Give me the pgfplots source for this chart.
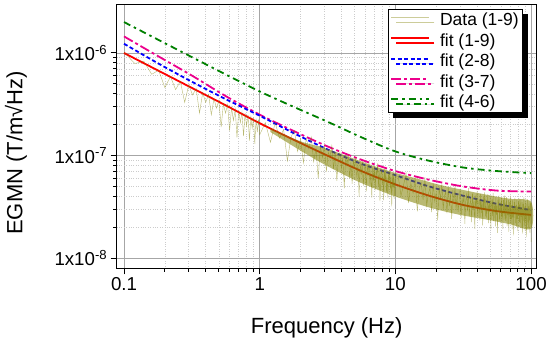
\documentclass[border=0pt]{standalone}
\usepackage{fontspec}
\setmainfont{Liberation Sans}
\usepackage{pgfplots}
\pgfplotsset{compat=1.18}
\usetikzlibrary{shadows}
\definecolor{fitgreen}{RGB}{0,128,0}
\definecolor{dataol}{RGB}{128,128,0}
\begin{document}
\begin{tikzpicture}
\begin{axis}[
  scale only axis, width=420pt, height=264pt,
  xmode=log, ymode=log,
  xmin=0.0883, xmax=110, ymin=8.0e-9, ymax=2.98e-6,
  xtick={0.1,1,10,100}, xticklabels={0.1,1,10,100},
  ytick={1e-8,1e-7,1e-6},
  yticklabels={1x10\textsuperscript{-8},1x10\textsuperscript{-7},1x10\textsuperscript{-6}},
  tick pos=left, tick align=outside,
  major tick length=6pt, minor tick length=3.5pt,
  every tick/.style={black, line width=1pt},
  grid=both,
  major grid style={black!35, line width=0.7pt},
  minor grid style={black!20, dotted, line width=0.6pt},
  axis line style={line width=1.6pt},
  ticklabel style={font=\fontsize{18.7}{22}\selectfont},
  every axis x label/.style={at={(axis description cs:0.5,-0.246)}, anchor=base, font=\fontsize{22}{26}\selectfont},
  every axis y label/.style={at={(axis description cs:-0.24,0.437)}, rotate=90, anchor=center, font=\fontsize{22}{26}\selectfont},
  xlabel={Frequency (Hz)}, ylabel={EGMN (T/m√Hz)},
  legend cell align=left,
  legend image code/.code={\draw[#1] (0pt,2.5pt) -- (38pt,2.5pt);},
  legend style={at={(axis description cs:0.9674,0.982)}, anchor=north east,
    draw=black, line width=0.8pt, fill=white,
    font=\fontsize{17.5}{21}\selectfont, inner sep=1.8pt, row sep=2.2pt,
    /tikz/every odd column/.append style={column sep=8pt},
    drop shadow={fill=black, opacity=1, shadow xshift=5pt, shadow yshift=-5pt}},
]
\addlegendimage{dataol!40!white, line width=0.7pt}
\addlegendentry{Data (1-9)}
\addlegendimage{red, line width=1.8pt}
\addlegendentry{fit (1-9)}
\addlegendimage{blue, line width=1.8pt, dash pattern=on 4pt off 2.5pt}
\addlegendentry{fit (2-8)}
\addlegendimage{magenta, line width=1.8pt, dash pattern=on 10pt off 3pt on 3pt off 3pt}
\addlegendentry{fit (3-7)}
\addlegendimage{fitgreen, line width=1.8pt, dash pattern=on 7pt off 4pt on 2.5pt off 4pt}
\addlegendentry{fit (4-6)}

% fit (4-6)
\addplot[forget plot, fitgreen, line width=1.8pt, dash pattern=on 7pt off 4pt on 2.5pt off 4pt, smooth] coordinates {
(0.1,2.00e-6) (0.1778,1.35e-6) (0.3162,9.12e-7) (0.5623,6.17e-7) (1,4.22e-7) (1.778,2.99e-7) (3.162,2.14e-7) (5.623,1.51e-7) (10,1.10e-7) (17.78,8.91e-8) (31.62,7.67e-8) (56.23,7.08e-8) (100,6.76e-8)};
% fit (3-7)
\addplot[forget plot, magenta, line width=1.8pt, dash pattern=on 10pt off 3pt on 3pt off 3pt, smooth] coordinates {
(0.1,1.45e-6) (0.1778,9.33e-7) (0.3162,6.03e-7) (0.5623,3.80e-7) (1,2.51e-7) (1.778,1.74e-7) (3.162,1.23e-7) (5.623,9.12e-8) (10,7.08e-8) (17.78,5.82e-8) (31.62,5.01e-8) (56.23,4.57e-8) (100,4.47e-8)};
% fit (2-8)
\addplot[forget plot, blue, line width=1.8pt, dash pattern=on 4pt off 2.5pt, smooth] coordinates {
(0.1,1.23e-6) (0.1778,7.94e-7) (0.3162,5.25e-7) (0.5623,3.55e-7) (1,2.45e-7) (1.778,1.66e-7) (3.162,1.15e-7) (5.623,8.32e-8) (10,6.46e-8) (17.78,5.01e-8) (31.62,4.07e-8) (56.23,3.39e-8) (100,2.95e-8)};
% fit (1-9)
\addplot[forget plot, red, line width=1.8pt, smooth] coordinates {
(0.1,1.00e-6) (0.1778,6.76e-7) (0.3162,4.57e-7) (0.5623,3.09e-7) (1,2.07e-7) (1.778,1.43e-7) (3.162,1.00e-7) (5.623,7.08e-8) (10,5.25e-8) (17.78,4.07e-8) (31.62,3.31e-8) (56.23,2.88e-8) (100,2.65e-8)};

% dense core of the data (1-9)
\addplot[forget plot, fill=dataol, draw=none, fill opacity=0.55, smooth] coordinates {
(1.2,1.85e-7) (2,1.38e-7) (3,1.19e-7) (5,9.3e-8) (7,7.9e-8) (10,6.8e-8) (15,5.9e-8) (20,5.3e-8) (30,4.7e-8) (50,4.1e-8) (70,3.8e-8) (100,3.55e-8)
(100,1.95e-8) (70,2.15e-8) (50,2.35e-8) (30,2.65e-8) (20,3.0e-8) (15,3.35e-8) (10,4.0e-8) (7,4.8e-8) (5,5.8e-8) (3,8.2e-8) (2,1.12e-7) (1.2,1.7e-7)} -- cycle;

% Data (1-9)
\addplot[forget plot, dataol, opacity=0.55, line width=0.4pt] coordinates {
(0.10,1.02e-6) (0.12,7.9e-7) (0.14,8.3e-7) (0.16,6.2e-7) (0.18,6.8e-7) (0.20,4.6e-7) (0.22,5.9e-7) (0.24,4.4e-7) (0.26,5.3e-7) (0.28,3.3e-7)
(0.30,4.9e-7) (0.32,3.9e-7) (0.34,4.5e-7) (0.36,2.6e-7) (0.38,4.1e-7) (0.40,3.3e-7) (0.42,3.95e-7) (0.44,2.5e-7) (0.46,3.6e-7) (0.48,2.9e-7)
(0.50,3.45e-7) (0.52,1.9e-7) (0.54,3.2e-7) (0.56,2.6e-7) (0.58,3.15e-7) (0.60,1.75e-7) (0.62,2.95e-7) (0.64,2.2e-7) (0.66,2.85e-7) (0.68,1.5e-7)
(0.70,2.75e-7) (0.72,2.1e-7) (0.74,2.65e-7) (0.76,1.55e-7) (0.78,2.6e-7) (0.80,1.95e-7) (0.82,2.5e-7) (0.84,1.4e-7) (0.86,2.45e-7) (0.88,1.85e-7)
(0.90,2.35e-7) (0.92,1.3e-7) (0.94,2.3e-7) (0.96,1.7e-7) (0.98,2.25e-7) (1.00,1.6e-7)
(1.1,21.0e-8) (1.2,13.5e-8) (1.3,21.0e-8) (1.4,14.8e-8) (1.5,18.0e-8) (1.6,8.9e-8) (1.7,15.2e-8) (1.8,17.6e-8) (1.9,11.0e-8) (2.0,14.7e-8)
(2.1,8.5e-8) (2.2,14.8e-8) (2.3,11.7e-8) (2.4,15.2e-8) (2.5,8.7e-8) (2.6,11.9e-8) (2.7,6.0e-8) (2.8,12.4e-8) (2.9,9.6e-8) (3.0,12.6e-8)
(3.1,7.0e-8) (3.2,10.8e-8) (3.3,9.7e-8) (3.4,12.5e-8) (3.5,7.4e-8) (3.6,10.9e-8) (3.7,5.7e-8) (3.8,9.2e-8) (3.9,10.8e-8) (4.0,7.5e-8)
(4.1,9.7e-8) (4.2,4.8e-8) (4.3,10.1e-8) (4.4,7.8e-8) (4.5,10.3e-8) (4.6,6.0e-8) (4.7,8.6e-8) (4.8,5.3e-8) (4.9,9.1e-8) (5.0,7.6e-8)
(5.1,9.7e-8) (5.2,6.1e-8) (5.3,8.3e-8) (5.4,4.0e-8) (5.5,8.7e-8) (5.6,6.5e-8) (5.7,8.9e-8) (5.8,5.1e-8) (5.9,7.4e-8) (6.0,8.0e-8)
(6.1,4.5e-8) (6.2,8.3e-8) (6.3,6.45e-8) (6.4,8.8e-8) (6.5,5.2e-8) (6.6,7.2e-8) (6.7,3.9e-8) (6.8,7.7e-8) (6.9,5.7e-8) (7.0,7.9e-8)
(7.1,4.6e-8) (7.2,7.2e-8) (7.3,6.4e-8) (7.4,8.4e-8) (7.5,5.0e-8) (7.6,7.2e-8) (7.7,3.6e-8) (7.8,6.6e-8) (7.9,7.4e-8) (8.0,5.2e-8)
(8.1,6.8e-8) (8.2,3.7e-8) (8.3,7.4e-8) (8.4,5.5e-8) (8.5,7.5e-8) (8.6,4.4e-8) (8.7,6.1e-8) (8.8,3.9e-8) (8.9,6.9e-8) (9.0,5.6e-8)
(9.1,7.2e-8) (9.2,4.7e-8) (9.3,6.2e-8) (9.4,3.2e-8) (9.5,6.5e-8) (9.6,4.9e-8) (9.7,6.7e-8) (9.8,3.8e-8) (9.9,5.8e-8) (10.0,6.2e-8)
(10.5,6.25e-8) (11.0,4.08e-8) (11.5,5.21e-8) (12.0,6.73e-8) (12.5,3.46e-8) (13.0,5.38e-8) (13.5,4.32e-8) (14.0,5.93e-8) (14.5,2.87e-8) (15.0,4.80e-8)
(15.5,5.44e-8) (16.0,3.71e-8) (16.5,6.18e-8) (17.0,3.25e-8) (17.5,4.25e-8) (18.0,4.86e-8) (18.5,2.82e-8) (19.0,5.36e-8) (19.5,3.59e-8) (20.0,4.37e-8)
(20.5,2.35e-8) (21.0,4.93e-8) (21.5,3.74e-8) (22.0,5.36e-8) (22.5,3.00e-8) (23.0,4.03e-8) (23.5,4.49e-8) (24.0,2.75e-8) (24.5,4.98e-8) (25.0,3.22e-8)
(25.5,4.22e-8) (26.0,2.43e-8) (26.5,4.64e-8) (27.0,3.40e-8) (27.5,5.06e-8) (28.0,2.94e-8) (28.5,4.29e-8) (29.0,2.84e-8) (29.5,3.65e-8) (30.0,4.77e-8)
(30.5,2.48e-8) (31.0,3.91e-8) (31.5,3.18e-8) (32.0,4.42e-8) (32.5,2.17e-8) (33.0,3.67e-8) (33.5,4.19e-8) (34.0,2.87e-8) (34.5,4.82e-8) (35.0,2.55e-8)
(35.5,3.37e-8) (36.0,3.88e-8) (36.5,2.26e-8) (37.0,4.35e-8) (37.5,2.93e-8) (38.0,3.60e-8) (38.5,1.94e-8) (39.0,4.09e-8) (39.5,3.11e-8) (40.0,4.48e-8)
(40.5,2.52e-8) (41.0,3.40e-8) (41.5,3.80e-8) (42.0,2.34e-8) (42.5,4.25e-8) (43.0,2.76e-8) (43.5,3.63e-8) (44.0,2.09e-8) (44.5,4.01e-8) (45.0,2.95e-8)
(45.5,4.39e-8) (46.0,2.56e-8) (46.5,3.76e-8) (47.0,2.49e-8) (47.5,3.21e-8) (48.0,4.22e-8) (48.5,2.20e-8) (49.0,3.47e-8) (49.5,2.83e-8) (50.0,3.94e-8)
(50.5,1.93e-8) (51.0,3.28e-8) (51.5,3.76e-8) (52.0,2.58e-8) (52.5,4.34e-8) (53.0,2.30e-8) (53.5,3.04e-8) (54.0,3.50e-8) (54.5,2.05e-8) (55.0,3.94e-8)
(55.5,2.66e-8) (56.0,3.27e-8) (56.5,1.77e-8) (57.0,3.73e-8) (57.5,2.85e-8) (58.0,4.10e-8) (58.5,2.31e-8) (59.0,3.12e-8) (59.5,3.50e-8) (60.0,2.15e-8)
(60.5,3.92e-8) (61.0,2.55e-8) (61.5,3.36e-8) (62.0,1.94e-8) (62.5,3.72e-8) (63.0,2.74e-8) (63.5,4.08e-8) (64.0,2.38e-8) (64.5,3.50e-8) (65.0,2.32e-8)
(65.5,3.00e-8) (66.0,3.94e-8) (66.5,2.05e-8) (67.0,3.24e-8) (67.5,2.64e-8) (68.0,3.69e-8) (68.5,1.81e-8) (69.0,3.08e-8) (69.5,3.53e-8) (70.0,2.43e-8)
(70.5,4.08e-8) (71.0,2.17e-8) (71.5,2.86e-8) (72.0,3.31e-8) (72.5,1.93e-8) (73.0,3.72e-8) (73.5,2.51e-8) (74.0,3.09e-8) (74.5,1.67e-8) (75.0,3.53e-8)
(75.5,2.69e-8) (76.0,3.88e-8) (76.5,2.19e-8) (77.0,2.96e-8) (77.5,3.32e-8) (78.0,2.04e-8) (78.5,3.72e-8) (79.0,2.43e-8) (79.5,3.19e-8) (80.0,1.84e-8)
(80.5,3.54e-8) (81.0,2.61e-8) (81.5,3.89e-8) (82.0,2.27e-8) (82.5,3.34e-8) (83.0,2.21e-8) (83.5,2.87e-8) (84.0,3.76e-8) (84.5,1.96e-8) (85.0,3.10e-8)
(85.5,2.53e-8) (86.0,3.53e-8) (86.5,1.74e-8) (87.0,2.96e-8) (87.5,3.39e-8) (88.0,2.33e-8) (88.5,3.92e-8) (89.0,2.08e-8) (89.5,2.76e-8) (90.0,3.19e-8)
(90.5,1.86e-8) (91.0,3.58e-8) (91.5,2.42e-8) (92.0,2.98e-8) (92.5,1.61e-8) (93.0,3.41e-8) (93.5,2.60e-8) (94.0,3.75e-8) (94.5,2.11e-8) (95.0,2.86e-8)
(95.5,3.20e-8) (96.0,1.97e-8) (96.5,3.60e-8) (97.0,2.34e-8) (97.5,3.09e-8) (98.0,1.78e-8) (98.5,3.43e-8) (99.0,2.52e-8) (99.5,3.77e-8) (100.0,1.45e-8)
};
\end{axis}
\pgfresetboundingbox
\path[use as bounding box] (-116.7pt,-73.7pt) rectangle (433.3pt,268.3pt);
\end{tikzpicture}
\end{document}
